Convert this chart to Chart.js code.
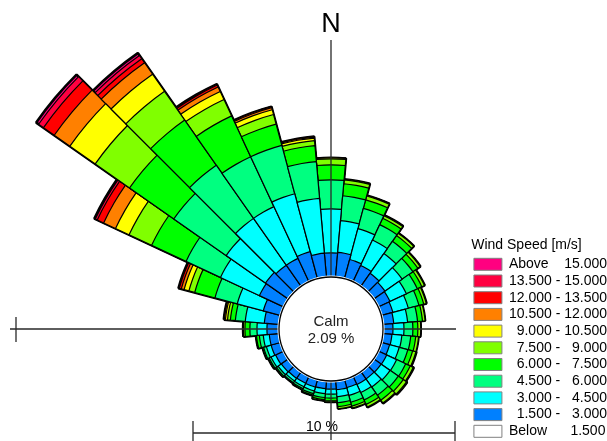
<!DOCTYPE html>
<html>
<head>
<meta charset="utf-8">
<script src="https://cdn.jsdelivr.net/npm/chart.js@4.4.1/dist/chart.umd.min.js"></script>
<style>
html,body{margin:0;padding:0;background:#fff;}
#wrap{width:607px;height:441px;position:relative;}
</style>
</head>
<body>
<div id="wrap"><canvas id="c" width="607" height="441"></canvas></div>
<script>
// ---- data (percent of time, per 10-degree direction sector, clockwise from N) ----
const directions = [0,10,20,30,40,50,60,70,80,90,100,110,120,130,140,150,160,170,180,190,200,210,220,230,240,250,260,270,280,290,300,310,320,330,340,350];
const calmPercent = 2.09;

const spd1_5to3   = [0.92,0.95,0.76,0.69,0.61,0.53,0.50,0.46,0.42,0.38,0.35,0.33,0.36,0.35,0.34,0.35,0.33,0.34,0.31,0.30,0.31,0.30,0.31,0.33,0.35,0.38,0.38,0.46,0.57,0.69,1.03,1.07,0.99,0.99,1.07,0.92];
const spd3to4_5   = [1.68,1.22,1.22,1.07,0.92,0.80,0.69,0.61,0.53,0.42,0.38,0.38,0.42,0.42,0.38,0.34,0.31,0.27,0.19,0.19,0.15,0.15,0.13,0.15,0.19,0.19,0.23,0.38,0.73,1.03,1.64,1.83,2.18,2.18,2.29,2.10];
const spd4_5to6   = [1.11,0.95,0.80,0.65,0.57,0.50,0.46,0.42,0.38,0.34,0.34,0.34,0.38,0.38,0.38,0.31,0.27,0.23,0.15,0.15,0.11,0.08,0.08,0.08,0.08,0.11,0.15,0.27,0.38,0.88,1.45,2.44,2.48,2.10,1.91,1.41];
const spd6to7_5   = [0.57,0.46,0.34,0.27,0.27,0.23,0.19,0.19,0.19,0.19,0.19,0.19,0.19,0.23,0.23,0.19,0.15,0.15,0.11,0.08,0.06,0.04,0.02,0.04,0.04,0.04,0.11,0.19,0.19,0.80,1.45,2.06,2.10,1.72,0.84,0.61];
const spd7_5to9   = [0.23,0.15,0.15,0.11,0.11,0.11,0.11,0.10,0.10,0.11,0.11,0.13,0.13,0.15,0.13,0.11,0.08,0.08,0.04,0.04,0.02,0.00,0.00,0.00,0.00,0.00,0.02,0.06,0.11,0.23,0.95,1.60,1.34,0.69,0.38,0.19];
const spd9to10_5  = [0.04,0.02,0.02,0.02,0.01,0.01,0.01,0.01,0.00,0.00,0.00,0.02,0.02,0.03,0.02,0.01,0.00,0.00,0.00,0.00,0.00,0.00,0.00,0.00,0.00,0.00,0.00,0.01,0.08,0.19,0.57,1.18,0.80,0.34,0.19,0.10];
const spd10_5to12 = [0,0,0,0,0,0,0,0,0,0,0,0,0,0,0,0,0,0,0,0,0,0,0,0,0,0,0,0,0.04,0.11,0.50,0.73,0.53,0.19,0.08,0.04];
const spd12to13_5 = [0,0,0,0,0,0,0,0,0,0,0,0,0,0,0,0,0,0,0,0,0,0,0,0,0,0,0,0,0.02,0.08,0.27,0.50,0.19,0.08,0.04,0.02];
const spd13_5to15 = [0,0,0,0,0,0,0,0,0,0,0,0,0,0,0,0,0,0,0,0,0,0,0,0,0,0,0,0,0,0.02,0.08,0.23,0.15,0.03,0,0];
const spdAbove15  = [0,0,0,0,0,0,0,0,0,0,0,0,0,0,0,0,0,0,0,0,0,0,0,0,0,0,0,0,0,0.01,0.04,0.11,0.11,0.01,0,0];

const binNames = ['1.500 - 3.000','3.000 - 4.500','4.500 - 6.000','6.000 - 7.500','7.500 - 9.000','9.000 - 10.500','10.500 - 12.000','12.000 - 13.500','13.500 - 15.000','Above 15.000'];
const legendTexts = ['Above    15.000','13.500 - 15.000','12.000 - 13.500','10.500 - 12.000','  9.000 - 10.500','  7.500 -   9.000','  6.000 -   7.500','  4.500 -   6.000','  3.000 -   4.500','  1.500 -   3.000','Below      1.500'];
const scaleBarPercent = 10;

// ---- styles ----
const binColors = ['#0080ff','#00ffff','#00ff80','#00ff00','#80ff00','#ffff00','#ff8000','#ff0000','#ff0040','#ff0080'];
const legendColors = ['#ff0080','#ff0040','#ff0000','#ff8000','#ffff00','#80ff00','#00ff00','#00ff80','#00ffff','#0080ff','#ffffff'];
const R0 = 52;      // calm circle radius, px
const PX = 26.2;    // px per percent

const bins = [spd1_5to3,spd3to4_5,spd4_5to6,spd6to7_5,spd7_5to9,spd9to10_5,spd10_5to12,spd12to13_5,spd13_5to15,spdAbove15];
const datasets = [{label:'Calm', data: directions.map(()=>0), backgroundColor:'#ffffff', borderColor:'#ffffff', borderWidth:3}];
let run = directions.map(()=>0);
bins.forEach((b,k)=>{
  run = run.map((v,i)=>+(v + b[i]).toFixed(4));
  datasets.push({label: binNames[k], data: run.slice(), backgroundColor: binColors[k], borderColor:'#000', borderWidth: k===bins.length-1 ? 2.6 : 1.2});
});

Chart.defaults.font.family = "'Liberation Sans', Arial, sans-serif";
Chart.defaults.color = '#000';

const decor = {
  id: 'decor',
  beforeDatasetDraw(chart, args){
    if (args.index !== 0) return;
    const s = chart.scales.r, ctx = chart.ctx, cx = s.xCenter, cy = s.yCenter;
    ctx.save();
    ctx.strokeStyle = '#2a2a2a'; ctx.lineWidth = 1.3;
    ctx.beginPath();
    ctx.moveTo(cx, cy-289); ctx.lineTo(cx, 440);
    ctx.moveTo(cx-321, cy); ctx.lineTo(cx+125, cy);
    ctx.moveTo(cx-315, cy-12); ctx.lineTo(cx-315, cy+13);
    ctx.stroke();
    ctx.restore();
  },
  afterDraw(chart){
    const s = chart.scales.r, ctx = chart.ctx, cx = s.xCenter, cy = s.yCenter;
    const pxPer = s.drawingArea/(s.max-s.min);
    ctx.save();
    ctx.fillStyle = '#000';
    ctx.textAlign = 'center'; ctx.textBaseline = 'alphabetic';
    ctx.font = "27px 'Liberation Sans', Arial, sans-serif";
    ctx.fillText('N', cx, 32);
    ctx.fillStyle = '#222';
    ctx.font = "15px 'Liberation Sans', Arial, sans-serif";
    ctx.fillText('Calm', cx, 326);
    ctx.fillText(calmPercent.toFixed(2)+' %', cx, 343);
    // scale bar
    const x0 = cx-138, x1 = x0 + scaleBarPercent*pxPer, yb = 433;
    ctx.strokeStyle = '#2a2a2a'; ctx.lineWidth = 1.3;
    ctx.beginPath();
    ctx.moveTo(x0, yb); ctx.lineTo(x1, yb);
    ctx.moveTo(x0, 421); ctx.lineTo(x0, 441);
    ctx.moveTo(x1, 421); ctx.lineTo(x1, 441);
    ctx.stroke();
    ctx.fillStyle = '#000';
    ctx.font = "14px 'Liberation Sans', Arial, sans-serif";
    ctx.fillText(scaleBarPercent+' %', cx-9, 431);
    ctx.restore();
  }
};

new Chart(document.getElementById('c'), {
  type: 'polarArea',
  data: { labels: directions.map(String), datasets },
  options: {
    responsive: false,
    animation: false,
    devicePixelRatio: 1,
    layout: { padding: { left: 191, top: 217, right: -10, bottom: 0 } },
    elements: { arc: { borderAlign: 'center' } },
    scales: {
      r: {
        startAngle: -5,
        bounds: 'data',
        ticks: { display: false },
        pointLabels: { display: false },
        angleLines: { display: false },
        grid: { display: true, circular: true, z: 1, lineWidth: 1.3,
                color: c => (c.tick && c.tick.value === 0) ? '#000' : 'rgba(0,0,0,0)' },
        afterDataLimits: sc => { sc.min = -R0/PX; sc.max = sc.min + sc.drawingArea/PX; },
        afterBuildTicks: sc => { sc.ticks = [{value: sc.min}, {value: 0}]; }
      }
    },
    plugins: {
      tooltip: { enabled: false },
      legend: {
        position: 'right', align: 'end',
        onClick: null,
        title: { display: true, text: 'Wind Speed [m/s]', position: 'start', color: '#000', font: { size: 14 }, padding: 0 },
        labels: {
          boxWidth: 28, boxHeight: 12, padding: 2.7, color: '#000', font: { size: 14 },
          generateLabels: () => legendTexts.map((t,i)=>({ text: t, fillStyle: legendColors[i], strokeStyle: '#808080', lineWidth: 1, hidden: false }))
        }
      }
    }
  },
  plugins: [decor]
});
</script>
</body>
</html>
